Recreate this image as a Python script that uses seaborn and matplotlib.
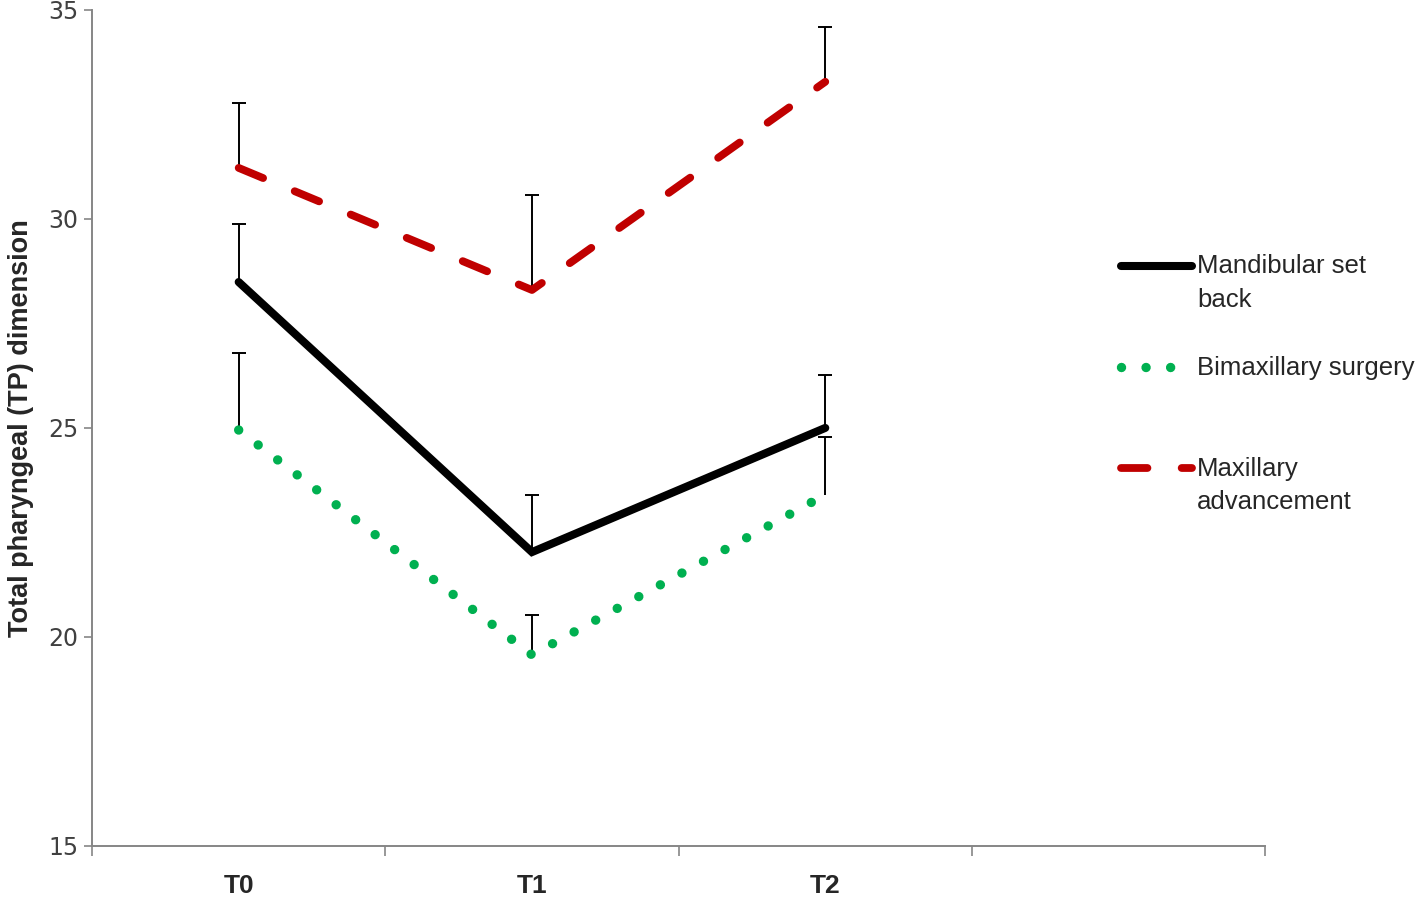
import numpy as np
import pandas as pd
import matplotlib
matplotlib.use("Agg")
import matplotlib.pyplot as plt
from matplotlib.legend_handler import HandlerLine2D
from matplotlib.lines import Line2D
import seaborn as sns

sns.set_style("white")
plt.rcParams['font.family'] = ['Liberation Sans', 'DejaVu Sans']

times = ["T0", "T1", "T2"]
groups = ["Mandibular set back", "Bimaxillary surgery", "Maxillary advancement"]
legend_labels = ["Mandibular set\nback", "Bimaxillary surgery\n", "Maxillary\nadvancement"]
mandibular = [28.49, 22.03, 25.0]
bimaxillary = [24.95, 19.57, 23.4]
maxillary = [31.22, 28.3, 33.28]
mandibular_err = [1.39, 1.37, 1.27]
bimaxillary_err = [1.84, 0.96, 1.38]
maxillary_err = [1.56, 2.27, 1.31]

colors = {"Mandibular set back": "black",
          "Bimaxillary surgery": "#00B050",
          "Maxillary advancement": "#C00000"}
dashes = {"Mandibular set back": "-",
          "Bimaxillary surgery": (0, (0.001, 2.6)),
          "Maxillary advancement": (0, (3.4, 4.4))}
widths = {"Mandibular set back": 5.8,
          "Bimaxillary surgery": 6.8,
          "Maxillary advancement": 5.6}

df = pd.DataFrame({
    "pos": list(range(len(times))) * 3,
    "value": mandibular + bimaxillary + maxillary,
    "err": mandibular_err + bimaxillary_err + maxillary_err,
    "group": [g for g in groups for _ in times],
})

fig = plt.figure(figsize=(14.16, 8.99), dpi=100)
ax = fig.add_axes([0.065, 0.059, 0.8285, 0.93])

handles = []
for g in groups:
    sub = df[df["group"] == g]
    sns.lineplot(data=sub, x="pos", y="value", color=colors[g], lw=widths[g],
                 ax=ax, legend=False, zorder=3)
    line = ax.lines[-1]
    line.set_linestyle(dashes[g])
    line.set_dash_capstyle("round")
    line.set_solid_capstyle("round")
    line.set_solid_joinstyle("miter")
    handles.append(line)
    eb = ax.errorbar(sub["pos"], sub["value"],
                     yerr=[np.zeros(len(sub)), sub["err"]],
                     fmt="none", ecolor="black", elinewidth=1.4,
                     capsize=5, capthick=1.4, zorder=2)
    eb[1][0].set_visible(False)

ax.set_xlim(-0.5, 3.5)
ax.set_ylim(15, 35)
yticks = [15, 20, 25, 30, 35]
ax.set_yticks(yticks)
ax.set_yticklabels([str(v) for v in yticks], fontsize=17,
                   fontfamily="DejaVu Sans", color="#404040")
ax.set_xticks([-0.5, 0.5, 1.5, 2.5, 3.5])
ax.set_xticklabels([])
ax.set_xticks(range(len(times)), minor=True)
ax.set_xticklabels(times, minor=True, fontsize=19, fontweight="bold")
ax.tick_params(axis="x", which="major", bottom=True, direction="out",
               length=7, width=1.2, color="#868686")
ax.tick_params(axis="x", which="minor", bottom=True, length=0, pad=20)
ax.tick_params(axis="y", left=True, direction="out", length=6, width=1.2,
               color="#868686", pad=4)

for side in ["top", "right"]:
    ax.spines[side].set_visible(False)
for side in ["left", "bottom"]:
    ax.spines[side].set_color("#868686")
    ax.spines[side].set_linewidth(1.4)

ax.set_xlabel("")
ax.set_ylabel("Total pharyngeal (TP) dimension", fontsize=19.5,
              fontweight="bold", labelpad=10)


class FirstLineHandler(HandlerLine2D):
    def create_artists(self, legend, orig_handle, xdescent, ydescent,
                       width, height, fontsize, trans):
        arts = super().create_artists(legend, orig_handle, xdescent, ydescent,
                                      width, height, fontsize, trans)
        for a in arts:
            a.set_ydata(np.asarray(a.get_ydata()) + 0.7 * fontsize)
        return arts


leg = fig.legend(handles, legend_labels, loc="upper left",
                 bbox_to_anchor=(0.792, 0.717), frameon=False, fontsize=18.5,
                 handlelength=2.75, handletextpad=0.2, labelspacing=1.7,
                 borderpad=0, borderaxespad=0,
                 handler_map={Line2D: FirstLineHandler()})
for t in leg.get_texts():
    t.set_linespacing(1.5)

fig.savefig("out.png", dpi=100)
